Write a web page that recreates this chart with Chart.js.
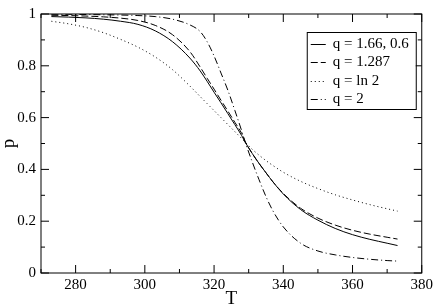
<!DOCTYPE html>
<html>
<head>
<meta charset="utf-8">
<script src="https://cdn.jsdelivr.net/npm/chart.js@4.4.1/dist/chart.umd.min.js"></script>
<style>
    body { margin: 0; background: #fff; }
    #wrap { width: 436px; height: 306px; }
</style>
</head>
<body>
<div id="wrap"><canvas id="pChart" width="436" height="306"></canvas></div>
<script>
//-------------
//- DATA
//-------------
var temps = [273, 278, 283, 288, 293, 298, 303, 308, 313, 316, 318, 320, 322, 324, 326, 328, 329, 331, 333, 335, 337, 340, 345, 350, 355, 360, 365, 370, 373];

var p_q166 = [0.990, 0.988, 0.985, 0.980, 0.972, 0.960, 0.935, 0.893, 0.830, 0.780, 0.740, 0.698, 0.657, 0.615, 0.573, 0.530, 0.505, 0.462, 0.423, 0.387, 0.352, 0.305, 0.245, 0.204, 0.172, 0.148, 0.130, 0.115, 0.106];
var p_q1287 = [0.995, 0.994, 0.992, 0.989, 0.984, 0.975, 0.956, 0.920, 0.855, 0.795, 0.752, 0.710, 0.667, 0.625, 0.582, 0.538, 0.507, 0.462, 0.423, 0.387, 0.352, 0.307, 0.250, 0.212, 0.185, 0.165, 0.150, 0.138, 0.131];
var p_qln2 = [0.972, 0.962, 0.948, 0.928, 0.902, 0.872, 0.834, 0.785, 0.722, 0.681, 0.654, 0.627, 0.600, 0.573, 0.546, 0.519, 0.505, 0.478, 0.455, 0.434, 0.415, 0.389, 0.354, 0.326, 0.302, 0.282, 0.264, 0.248, 0.239];
var p_q2 = [0.999, 0.999, 0.998, 0.997, 0.996, 0.994, 0.990, 0.980, 0.958, 0.932, 0.893, 0.838, 0.772, 0.705, 0.628, 0.548, 0.505, 0.430, 0.360, 0.295, 0.240, 0.178, 0.115, 0.085, 0.070, 0.060, 0.053, 0.048, 0.046];

var seriesLabels = ["q = 1.66, 0.6", "q = 1.287", "q = ln 2", "q = 2"];
var seriesDash = [[], [7, 3], [1, 3], [7, 3, 1, 3]];

var xMin = 270, xMax = 380, xStep = 10;
var yMin = 0, yMax = 1, yStep = 0.1;

var FONT = "'Liberation Serif', 'Times New Roman', 'DejaVu Serif', serif";

function toPoints(xs, ys) {
    var pts = [];
    for (var i = 0; i < xs.length; i++) {
        pts.push({ x: xs[i], y: ys[i] });
    }
    return pts;
}

function makeDataset(label, values, dash) {
    return {
        label: label,
        data: toPoints(temps, values),
        borderColor: "#000",
        borderWidth: 1,
        borderDash: dash,
        pointRadius: 0,
        fill: false,
        cubicInterpolationMode: "monotone"
    };
}

// frame, inward ticks on all four sides, legend box
var framePlugin = {
    id: "frame",
    afterDatasetsDraw: function (chart) {
        var ctx = chart.ctx;
        var a = chart.chartArea;
        var xs = chart.scales.x, ys = chart.scales.y;
        ctx.save();
        ctx.strokeStyle = "#000";
        ctx.lineWidth = 1;
        ctx.setLineDash([]);
        ctx.strokeRect(a.left, a.top, a.right - a.left, a.bottom - a.top);

        ctx.beginPath();
        xs.ticks.forEach(function (t) {
            var px = xs.getPixelForValue(t.value);
            var len = (Math.round(t.value) % 20 === 0) ? 8 : 4;
            ctx.moveTo(px, a.bottom); ctx.lineTo(px, a.bottom - len);
            ctx.moveTo(px, a.top); ctx.lineTo(px, a.top + len);
        });
        ys.ticks.forEach(function (t) {
            var py = ys.getPixelForValue(t.value);
            var len = (Math.round(t.value * 10) % 2 === 0) ? 8 : 4;
            ctx.moveTo(a.left, py); ctx.lineTo(a.left + len, py);
            ctx.moveTo(a.right, py); ctx.lineTo(a.right - len, py);
        });
        ctx.stroke();

        // legend
        var bw = 109, bh = 77;
        var bx = a.right - 6 - bw, by = a.top + 18;
        ctx.fillStyle = "#fff";
        ctx.fillRect(bx, by, bw, bh);
        ctx.strokeRect(bx + 0.5, by + 0.5, bw, bh);
        ctx.font = "15px " + FONT;
        ctx.textBaseline = "middle";
        ctx.textAlign = "left";
        chart.data.datasets.forEach(function (ds, i) {
            var ly = by + 12 + i * 18.3;
            ctx.beginPath();
            ctx.setLineDash(ds.borderDash);
            ctx.moveTo(bx + 4, Math.round(ly) + 0.5);
            ctx.lineTo(bx + 19, Math.round(ly) + 0.5);
            ctx.stroke();
            ctx.setLineDash([]);
            ctx.fillStyle = "#000";
            ctx.fillText(ds.label, bx + 26, ly);
        });
        ctx.restore();
    }
};

var ctx = document.getElementById("pChart").getContext("2d");
var chart = new Chart(ctx, {
    type: "line",
    data: {
        datasets: [
            makeDataset(seriesLabels[0], p_q166, seriesDash[0]),
            makeDataset(seriesLabels[1], p_q1287, seriesDash[1]),
            makeDataset(seriesLabels[2], p_qln2, seriesDash[2]),
            makeDataset(seriesLabels[3], p_q2, seriesDash[3])
        ]
    },
    options: {
        responsive: false,
        animation: false,
        layout: { padding: { top: 6, right: 13, left: 0, bottom: 0 } },
        plugins: {
            legend: { display: false },
            tooltip: { enabled: false }
        },
        scales: {
            x: {
                type: "linear",
                min: xMin,
                max: xMax,
                border: { display: false },
                grid: { display: false, drawTicks: false },
                ticks: {
                    stepSize: xStep,
                    padding: 3,
                    maxRotation: 0,
                    autoSkip: false,
                    color: "#000",
                    font: { family: FONT, size: 15 },
                    callback: function (v) {
                        return (Math.round(v) % 20 === 0) ? String(Math.round(v)) : "";
                    }
                },
                title: {
                    display: true,
                    text: "T",
                    color: "#000",
                    font: { family: FONT, size: 19, lineHeight: 1 },
                    padding: { top: 0, bottom: -3 }
                },
                afterFit: function (scale) { scale.height = 33; }
            },
            y: {
                min: yMin,
                max: yMax,
                border: { display: false },
                grid: { display: false, drawTicks: false },
                ticks: {
                    stepSize: yStep,
                    padding: 5,
                    autoSkip: false,
                    color: "#000",
                    font: { family: FONT, size: 15 },
                    callback: function (v) {
                        var k = Math.round(v * 10);
                        return (k % 2 === 0) ? String(k / 10) : "";
                    }
                },
                title: {
                    display: true,
                    text: "p",
                    color: "#000",
                    font: { family: FONT, size: 19, lineHeight: 1 },
                    padding: { top: 0, bottom: 0 }
                },
                afterFit: function (scale) { scale.width = 41; }
            }
        }
    },
    plugins: [framePlugin]
});
</script>
</body>
</html>
